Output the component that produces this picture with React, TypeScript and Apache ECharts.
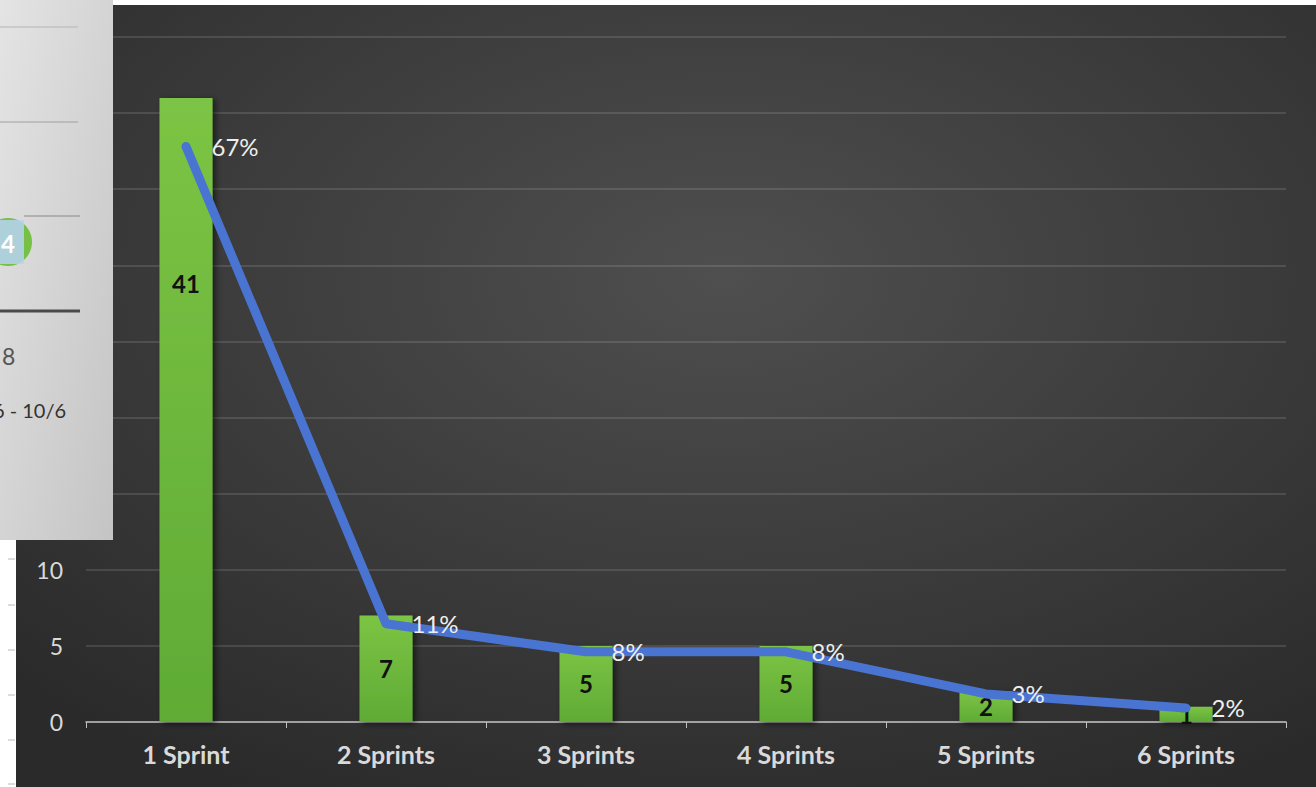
import React, { useEffect, useRef } from "react";
import * as echarts from "echarts";

const categories = ["1 Sprint", "2 Sprints", "3 Sprints", "4 Sprints", "5 Sprints", "6 Sprints"];
const counts = [41, 7, 5, 5, 2, 1];
const percents = [67.21, 11.48, 8.2, 8.2, 3.28, 1.64];
const countTicks = { min: 0, max: 45, interval: 5 };
const visibleTickMax = 10;
const percentAxis = { min: 0, max: 80 };

const FONT = "Lato, 'Open Sans', sans-serif";

export default function App() {
  const ref = useRef<HTMLDivElement>(null);
  useEffect(() => {
    if (!ref.current) return;
    const chart = echarts.init(ref.current, undefined, { renderer: "svg" });
    const barData = counts.map((v, i) =>
      i === 0
        ? { value: v, label: { position: ["50%", 186], align: "center", verticalAlign: "middle" } }
        : { value: v }
    );
    const leftTicks = [559, 605, 650, 695, 740, 784].map((y) => ({
      type: "line",
      shape: { x1: 8, y1: y, x2: 15, y2: y },
      style: { stroke: "#b8b8b8", lineWidth: 1 },
      z: 50,
    }));
    chart.setOption({
      animation: false,
      backgroundColor: new echarts.graphic.RadialGradient(0.55, 0.35, 0.75, [
        { offset: 0, color: "#4f4f4f" },
        { offset: 1, color: "#2a2a2a" },
      ]),
      grid: { left: 86, right: 30, top: 37, bottom: 65, containLabel: false },
      xAxis: {
        type: "category",
        data: categories,
        axisLine: { lineStyle: { color: "#bfbfbf", width: 1.5 } },
        axisTick: { show: true, length: 6, lineStyle: { color: "#bfbfbf" } },
        axisLabel: { color: "#d9d9d9", fontFamily: FONT, fontWeight: "bold", fontSize: 25, margin: 19 },
      },
      yAxis: [
        {
          type: "value",
          min: countTicks.min,
          max: countTicks.max,
          interval: countTicks.interval,
          axisLine: { show: false },
          axisTick: { show: false },
          axisLabel: {
            color: "#d9d9d9",
            fontFamily: FONT,
            fontSize: 23,
            margin: 23,
            formatter: (v: number) => (v <= visibleTickMax ? String(v) : ""),
          },
          splitLine: { lineStyle: { color: "rgba(255,255,255,0.16)", width: 1.5 } },
        },
        {
          type: "value",
          min: percentAxis.min,
          max: percentAxis.max,
          show: false,
          splitLine: { show: false },
        },
      ],
      series: [
        {
          type: "bar",
          data: barData,
          barWidth: 53,
          yAxisIndex: 0,
          itemStyle: {
            color: new echarts.graphic.LinearGradient(0, 0, 0, 1, [
              { offset: 0, color: "#7cc444" },
              { offset: 1, color: "#5fab35" },
            ]),
            shadowColor: "rgba(0,0,0,0.55)",
            shadowBlur: 6,
            shadowOffsetX: 3,
            shadowOffsetY: 2,
          },
          label: {
            show: true,
            position: "inside",
            color: "#111",
            fontFamily: FONT,
            fontWeight: "bold",
            fontSize: 24,
          },
        },
        {
          type: "line",
          data: percents,
          yAxisIndex: 1,
          showSymbol: true,
          symbol: "circle",
          symbolSize: 1,
          itemStyle: { color: "#4a74d2" },
          lineStyle: { color: "#4a74d2", width: 9, cap: "round", join: "round" },
          label: {
            show: true,
            position: "right",
            distance: 25,
            color: "#eeeeee",
            fontFamily: FONT,
            fontSize: 24,
            formatter: (p: any) => Math.round(p.value) + "%",
          },
          z: 5,
        },
      ],
      graphic: [
        { type: "rect", shape: { x: 0, y: 0, width: 1316, height: 5 }, style: { fill: "#ffffff" }, z: 50 },
        { type: "rect", shape: { x: 0, y: 0, width: 16, height: 787 }, style: { fill: "#ffffff" }, z: 50 },
        ...leftTicks,
        {
          type: "rect",
          shape: { x: 0, y: 0, width: 113, height: 540 },
          style: {
            fill: new echarts.graphic.LinearGradient(0, 0, 1, 1, [
              { offset: 0, color: "#e4e4e4" },
              { offset: 1, color: "#c4c4c4" },
            ]),
          },
          z: 100,
        },
        { type: "line", shape: { x1: 0, y1: 27, x2: 78, y2: 27 }, style: { stroke: "#b4b4b4", lineWidth: 1 }, z: 101 },
        { type: "line", shape: { x1: 0, y1: 122, x2: 78, y2: 122 }, style: { stroke: "#a0a0a0", lineWidth: 1 }, z: 101 },
        { type: "line", shape: { x1: 24, y1: 216, x2: 80, y2: 216 }, style: { stroke: "#888888", lineWidth: 1 }, z: 101 },
        { type: "line", shape: { x1: 0, y1: 311, x2: 80, y2: 311 }, style: { stroke: "#4a4a4a", lineWidth: 3 }, z: 101 },
        { type: "circle", shape: { cx: 8, cy: 242, r: 24 }, style: { fill: "#76c043" }, z: 101 },
        { type: "rect", shape: { x: 0, y: 220, width: 24, height: 44 }, style: { fill: "rgba(185,210,245,0.85)" }, z: 102 },
        {
          type: "text",
          style: { text: "4", x: 1, y: 243, fill: "#ffffff", font: "bold 24px " + FONT, verticalAlign: "middle" },
          z: 103,
        },
        {
          type: "text",
          style: { text: "8", x: 2, y: 356, fill: "#555555", font: "23px " + FONT, verticalAlign: "middle" },
          z: 101,
        },
        {
          type: "text",
          style: { text: "6 - 10/6", x: -7, y: 410, fill: "#333333", font: "20px " + FONT, verticalAlign: "middle" },
          z: 101,
        },
      ],
    });
    return () => chart.dispose();
  }, []);
  return (
    <div
      ref={ref}
      style={{ position: "absolute", left: 0, top: 0, width: 1316, height: 787 }}
    />
  );
}
